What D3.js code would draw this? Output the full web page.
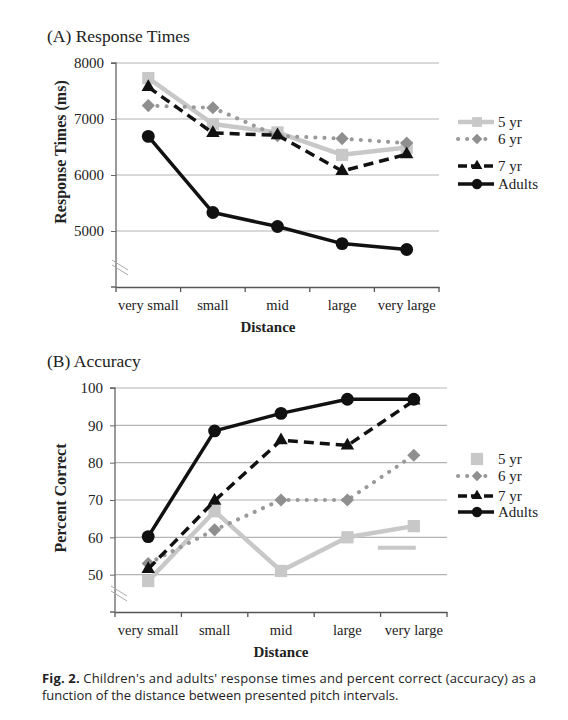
<!DOCTYPE html>
<html><head><meta charset="utf-8">
<script src="https://cdn.jsdelivr.net/npm/d3@7"></script>
<style>body{margin:0;background:#fff}</style>
</head><body><svg id="c" width="568" height="720"></svg>
<script>
const categories = ["very small","small","mid","large","very large"];
const seriesNames = ["5 yr","6 yr","7 yr","Adults"];
// Panel A: response times (ms)
const rt5 = [7730, 6910, 6760, 6360, 6490];
const rt6 = [7240, 7200, 6700, 6650, 6570];
const rt7 = [7570, 6750, 6710, 6070, 6370];
const rtAdults = [6690, 5330, 5080, 4775, 4670];
const rtTicks = [5000, 6000, 7000, 8000];
// Panel B: percent correct
const acc5 = [48.3, 67, 51, 60, 63];
const acc6 = [53, 62, 70, 70, 82];
const acc7 = [51.5, 69.8, 86, 84.6, 96.6];
const accAdults = [60.2, 88.5, 93.2, 97, 97];
const accTicks = [50, 60, 70, 80, 90, 100];
const accStray = 57.2;

const svg = d3.select("#c");
const serif = "'Liberation Serif','DejaVu Serif',serif";
const styles = [
  {stroke:"#c8c8c8", w:4.5, dash:null, cap:"butt", marker:"square", fill:"#c8c8c8"},
  {stroke:"#999", w:4, dash:"0.1,9", cap:"round", marker:"diamond", fill:"#8f8f8f"},
  {stroke:"#111", w:3.5, dash:"10,6", cap:"butt", marker:"triangle", fill:"#111"},
  {stroke:"#111", w:3.5, dash:null, cap:"butt", marker:"circle", fill:"#111"}
];
function sym(type){
  const m = {square:d3.symbolSquare, diamond:d3.symbolDiamond2, triangle:d3.symbolTriangle2, circle:d3.symbolCircle};
  const s = {square:150, diamond:110, triangle:130, circle:130};
  return d3.symbol(m[type], s[type])();
}

function panel(o){
  const x = d3.scaleBand().domain(categories).range([o.x0,o.x1]);
  const y = d3.scaleLinear().domain(o.domain).range([o.y1,o.y0]);
  const g = svg.append("g");
  g.selectAll(".grid").data(o.ticks).enter().append("line")
    .attr("x1",o.x0).attr("x2",o.x1).attr("y1",d=>y(d)).attr("y2",d=>y(d))
    .attr("stroke","#b4b4b4").attr("stroke-width",1.2);
  const ya = g.append("g").attr("transform",`translate(${o.x0},0)`)
    .call(d3.axisLeft(y).tickValues(o.ticks).tickSize(5).tickPadding(7).tickFormat(d3.format("d")));
  ya.select(".domain").attr("stroke","#666").attr("stroke-width",1.3).attr("d",`M-5,${y(o.ticks[o.ticks.length-1])}H0V${o.y1}H-5`);
  ya.selectAll(".tick line").attr("stroke","#666");
  ya.selectAll("text").attr("font-family",serif).attr("font-size",15).attr("fill","#222");
  const xa = g.append("g").attr("transform",`translate(0,${o.y1})`)
    .call(d3.axisBottom(x).tickSize(0).tickPadding(13));
  xa.select(".domain").attr("stroke","#555").attr("stroke-width",1.3);
  xa.selectAll("text").attr("font-family",serif).attr("font-size",14.5).attr("fill","#222");
  const bounds = categories.map(c=>x(c)).concat([o.x1]);
  g.selectAll(".xt").data(bounds).enter().append("line")
    .attr("x1",d=>d).attr("x2",d=>d).attr("y1",o.y1).attr("y2",o.y1+5).attr("stroke","#555").attr("stroke-width",1.3);
  for(let k=0;k<2;k++){
    g.append("line").attr("x1",o.x0-4).attr("x2",o.x0+12)
      .attr("y1",o.brk-4+k*5).attr("y2",o.brk+6+k*5).attr("stroke","#aaa").attr("stroke-width",1);
  }
  svg.append("text").attr("x",47).attr("y",o.titleY).text(o.title)
    .attr("font-family",serif).attr("font-size",17.5).attr("fill","#222");
  svg.append("text").attr("transform",`translate(66,${o.ylabC}) rotate(-90)`).attr("text-anchor","middle")
    .text(o.ylabel).attr("font-family",serif).attr("font-weight","bold").attr("font-size",16).attr("fill","#222");
  svg.append("text").attr("x",o.xlabX).attr("y",o.xlabY).attr("text-anchor","middle").text("Distance")
    .attr("font-family",serif).attr("font-weight","bold").attr("font-size",15).attr("fill","#222");
  const cx = c=>x(c)+x.bandwidth()/2;
  if(o.stray!=null){
    g.append("line").attr("x1",cx("very large")-36).attr("x2",cx("very large")+2)
      .attr("y1",y(o.stray)).attr("y2",y(o.stray)).attr("stroke","#c8c8c8").attr("stroke-width",4);
  }
  o.series.forEach((vals,i)=>{
    const s = styles[i];
    const pts = vals.map((v,j)=>[cx(categories[j]),y(v)]);
    g.append("path").attr("d",d3.line()(pts)).attr("fill","none").attr("stroke",s.stroke)
      .attr("stroke-width",s.w).attr("stroke-dasharray",s.dash).attr("stroke-linecap",s.cap).attr("stroke-linejoin","round");
    g.selectAll(null).data(pts).enter().append("path").attr("d",sym(s.marker))
      .attr("transform",d=>`translate(${d[0]},${d[1]})`).attr("fill",s.fill);
  });
  seriesNames.forEach((n,i)=>{
    const s = styles[i];
    const ly = o.legY[i];
    const lg = svg.append("g");
    if(!(o.noLegLine && i===0)){
      lg.append("line").attr("x1",o.legX).attr("x2",o.legX+36).attr("y1",ly).attr("y2",ly)
        .attr("stroke",s.stroke).attr("stroke-width",s.w).attr("stroke-dasharray",s.dash==="10,6"?"9,4":s.dash).attr("stroke-linecap",s.cap);
    }
    lg.append("path").attr("d",sym(s.marker)).attr("transform",`translate(${o.legX+19},${ly}) scale(${i===0&&o.noLegLine?1:0.8})`).attr("fill",s.fill);
    lg.append("text").attr("x",o.legX+40).attr("y",ly+5).text(n)
      .attr("font-family",serif).attr("font-size",15).attr("fill","#222");
  });
}

panel({x0:116,x1:439,y0:63,y1:287,domain:[4000,8000],ticks:rtTicks,brk:264,
  title:"(A) Response Times",titleY:42,ylabel:"Response Times (ms)",ylabC:152,xlabX:268,xlabY:332,
  series:[rt5,rt6,rt7,rtAdults],legX:458,legY:[122,139,166,184]});
panel({x0:115,x1:447,y0:388,y1:612,domain:[40,100],ticks:accTicks,brk:590,
  title:"(B) Accuracy",titleY:367,ylabel:"Percent Correct",ylabC:498,xlabX:281,xlabY:657,stray:accStray,noLegLine:true,
  series:[acc5,acc6,acc7,accAdults],legX:458,legY:[459,476,496,512]});

const sans = "'Open Sans','Noto Sans','DejaVu Sans',sans-serif";
const cap1 = svg.append("text").attr("x",42).attr("y",683).attr("font-family",sans).attr("font-size",13).attr("fill","#222")
  .attr("textLength",494).attr("lengthAdjust","spacing");
cap1.append("tspan").attr("font-weight","bold").text("Fig. 2.");
cap1.append("tspan").text(" Children's and adults' response times and percent correct (accuracy) as a");
svg.append("text").attr("x",42).attr("y",700).attr("font-family",sans).attr("font-size",13).attr("fill","#222")
  .text("function of the distance between presented pitch intervals.");
</script></body></html>
